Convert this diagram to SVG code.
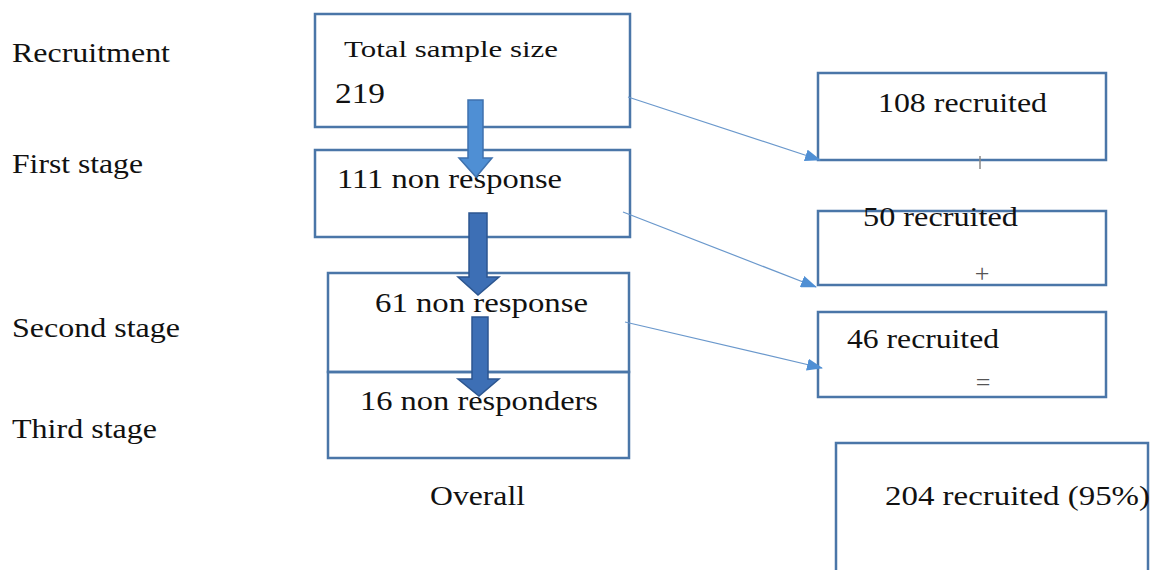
<svg xmlns="http://www.w3.org/2000/svg" width="1152" height="570" viewBox="0 0 1152 570">
<style>
.box{fill:none;stroke:#4a76a8;stroke-width:2.5}
text{font-family:'Liberation Serif','Times New Roman',serif;fill:#111}
.lbl{font-size:28px}
.n{font-size:27px}
.thin{stroke:#6a98cc;stroke-width:1.2;fill:none}
.blk1{fill:#4f8fd4;stroke:#3f72ae;stroke-width:1.5}
.blk2{fill:#3d6fb5;stroke:#2c5690;stroke-width:1.5}
.op{font-size:26px;fill:#555}
</style>
<defs>
<marker id="ah" viewBox="0 0 16 12" refX="15" refY="6" markerWidth="16" markerHeight="12" markerUnits="userSpaceOnUse" orient="auto">
<path d="M0,0 L16,6 L0,12 Z" fill="#4f8fd4"/>
</marker>
</defs>
<rect width="1152" height="570" fill="#ffffff"/>

<g id="stage-labels" font-family="Liberation Serif, serif">
<text class="lbl" x="12" y="62" textLength="158" lengthAdjust="spacingAndGlyphs">Recruitment</text>
<text class="lbl" x="12" y="173" textLength="131" lengthAdjust="spacingAndGlyphs">First stage</text>
<text class="lbl" x="12" y="337" textLength="168" lengthAdjust="spacingAndGlyphs">Second stage</text>
<text class="lbl" x="12" y="438" textLength="145" lengthAdjust="spacingAndGlyphs">Third stage</text>
</g>

<g id="node-total" font-family="Liberation Serif, serif">
<rect class="box" x="315" y="14" width="315" height="113"/>
<text x="344" y="57" font-size="23" textLength="214" lengthAdjust="spacingAndGlyphs">Total sample size</text>
<text x="335" y="103" font-size="29" textLength="50" lengthAdjust="spacingAndGlyphs">219</text>
</g>

<g id="node-first" font-family="Liberation Serif, serif">
<rect class="box" x="315" y="150" width="315" height="87"/>
<text class="n" x="337" y="188" textLength="225" lengthAdjust="spacingAndGlyphs">111 non response</text>
</g>

<g id="node-second" font-family="Liberation Serif, serif">
<rect class="box" x="328" y="273" width="301" height="99"/>
<text class="n" x="375" y="312" textLength="213" lengthAdjust="spacingAndGlyphs">61 non response</text>
</g>

<g id="node-third" font-family="Liberation Serif, serif">
<rect class="box" x="328" y="372" width="301" height="86"/>
<text class="n" x="360" y="410" textLength="238" lengthAdjust="spacingAndGlyphs">16 non responders</text>
</g>

<g id="label-overall" font-family="Liberation Serif, serif">
<text class="n" x="430" y="505" textLength="95" lengthAdjust="spacingAndGlyphs">Overall</text>
</g>

<g id="node-r108" font-family="Liberation Serif, serif">
<rect class="box" x="818" y="73" width="288" height="87"/>
<line x1="980" y1="156" x2="980" y2="169" stroke="#888" stroke-width="1.5"/>
<text class="lbl" x="878" y="112" textLength="169" lengthAdjust="spacingAndGlyphs">108 recruited</text>
</g>

<g id="node-r50" font-family="Liberation Serif, serif">
<rect class="box" x="818" y="211" width="288" height="74"/>
<text class="n" x="863" y="226" textLength="155" lengthAdjust="spacingAndGlyphs">50 recruited</text>
<text class="op" x="982" y="282" text-anchor="middle">+</text>
</g>

<g id="node-r46" font-family="Liberation Serif, serif">
<rect class="box" x="818" y="312" width="288" height="85"/>
<text class="n" x="847" y="348" textLength="152" lengthAdjust="spacingAndGlyphs">46 recruited</text>
<text class="op" x="983" y="391" text-anchor="middle">=</text>
</g>

<g id="node-total-recruited" font-family="Liberation Serif, serif">
<rect class="box" x="836" y="443" width="312" height="140"/>
<text class="lbl" x="885" y="505" textLength="265" lengthAdjust="spacingAndGlyphs">204 recruited (95%)</text>
</g>

<g id="connectors">
<line class="thin" x1="628" y1="97" x2="820" y2="160" marker-end="url(#ah)"/>
<line class="thin" x1="623" y1="212" x2="816" y2="287" marker-end="url(#ah)"/>
<line class="thin" x1="625" y1="322" x2="822" y2="368" marker-end="url(#ah)"/>
<polygon class="blk1" points="468,100 483,100 483,158 492,158 476,177 459,158 468,158"/>
<polygon class="blk2" points="469,213 487,213 487,277 499,277 478,295 458,277 469,277"/>
<polygon class="blk2" points="472,317 488,317 488,379 499,379 479,396 458,379 472,379"/>
</g>
</svg>
